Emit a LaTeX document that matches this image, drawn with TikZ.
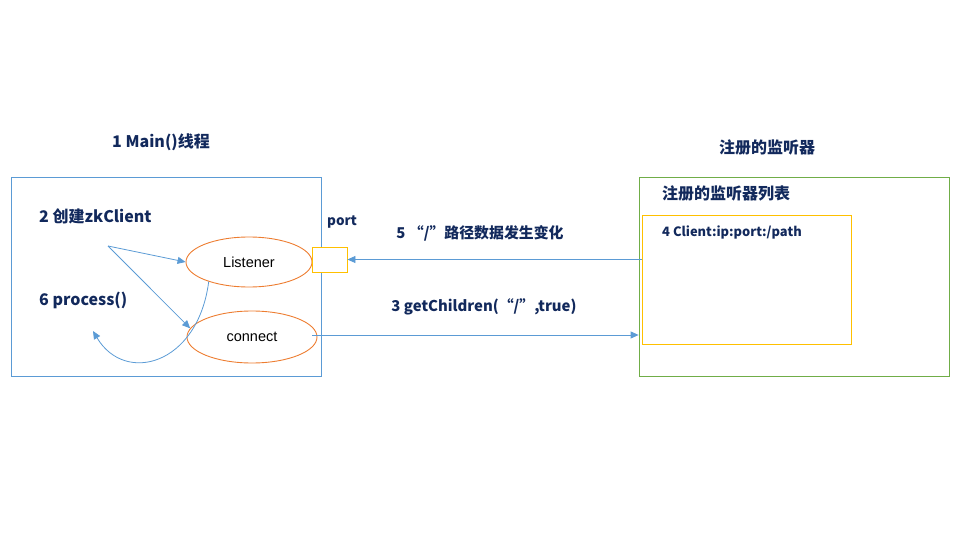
\documentclass[tikz,border=0pt]{standalone}
\usepackage{fontspec}
\setmainfont{Liberation Sans}
\newfontfamily\cjk{Noto Sans CJK SC}
\usetikzlibrary{arrows.meta,shapes.geometric,calc}
\definecolor{navy}{HTML}{12295C}
\definecolor{lblue}{HTML}{5B9BD5}
\definecolor{orng}{HTML}{ED7D31}
\definecolor{ylw}{HTML}{FFC000}
\definecolor{grn}{HTML}{70AD47}
\tikzset{
  lbl/.style={font=\cjk\bfseries\fontsize{16}{19}\selectfont, text=navy, inner sep=0pt},
  mlbl/.style={font=\cjk\bfseries\fontsize{14.9}{18}\selectfont, text=navy, inner sep=0pt},
  slbl/.style={font=\cjk\bfseries\fontsize{12.9}{15}\selectfont, text=navy, inner sep=0pt},
  oval/.style={ellipse, draw=orng, line width=0.9pt, inner sep=0pt, font=\fontsize{14.5}{17}\selectfont},
  arr/.style={draw=lblue, line width=0.8pt, -{Triangle[width=7pt,length=8pt]}},
}
\begin{document}
\begin{tikzpicture}[x=1pt,y=-1pt]
\useasboundingbox (0,0) rectangle (960,540);
% left box
\node[draw=lblue, line width=0.8pt, minimum width=310pt, minimum height=199pt, inner sep=0pt] (main) at (166,276.5) {};
\node[lbl] (t1) at (161,142) {1 Main()线程};
\node[lbl, anchor=west] (t2) at (39,216) {2 创建zkClient};
\node[lbl, anchor=west] (t6) at (39,300) {6 process()};
\node[oval, minimum width=126pt, minimum height=50pt] (listener) at (249,262) {Listener};
\node[oval, minimum width=130pt, minimum height=52pt] (connect) at (252,337) {connect};
\node[draw=ylw, line width=0.8pt, minimum width=35pt, minimum height=25pt, inner sep=0pt, fill=white] (port) at (329.5,259.5) {};
\node[slbl, anchor=west, font=\cjk\bfseries\fontsize{13.5}{16}\selectfont] (tport) at (327,222) {port};
% right boxes
\node[draw=grn, line width=0.8pt, minimum width=310pt, minimum height=199pt, inner sep=0pt] (outer) at (794,276.5) {};
\node[draw=ylw, line width=0.8pt, minimum width=209pt, minimum height=129pt, inner sep=0pt] (list) at (746.5,279.5) {};
\node[lbl] (t7) at (767,147) {注册的监听器};
\node[lbl, anchor=west] (t8) at (662,193) {注册的监听器列表};
\node[slbl, anchor=west] (t4) at (662,232) {4 Client:ip:port:/path};
% connectors
\coordinate (fork) at (108,246);
\draw[arr] (fork) -- (listener.west);
\draw[arr] (fork) -- (connect.172);
\coordinate (pend) at (93,331);
\draw[arr] (listener.206) .. controls (198,365) and (125,385) .. (pend);
\draw[arr] (list.west |- port.east) -- (port.east);
\node[mlbl] (t5) at (480,233) {5 “/”路径数据发生变化};
\coordinate (cstart) at (312,335);
\draw[arr] (cstart) -- (outer.west |- cstart);
\node[mlbl] (t3) at (484,307) {3 getChildren(“/”,true)};
\end{tikzpicture}
\end{document}
